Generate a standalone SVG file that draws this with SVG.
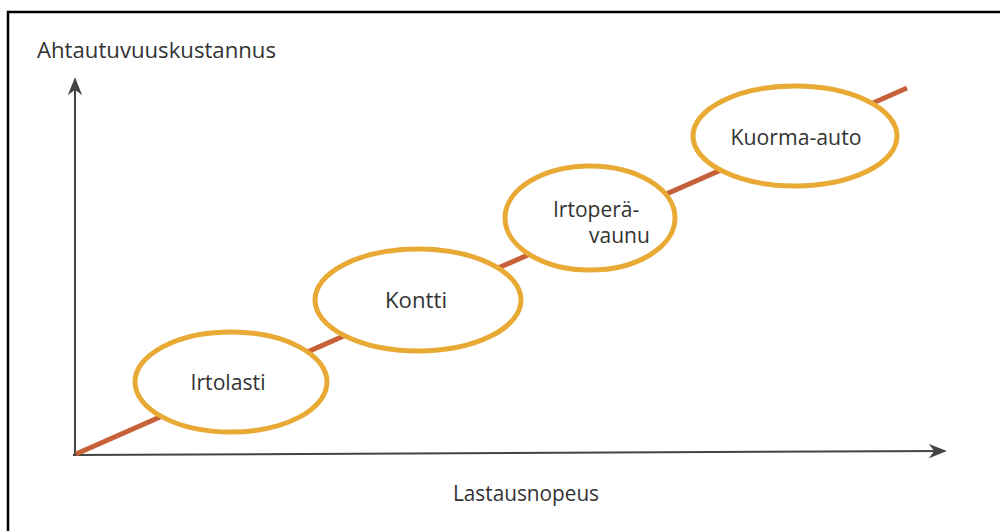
<svg xmlns="http://www.w3.org/2000/svg" width="1000" height="531" viewBox="0 0 1000 531">
<style>
text{font-family:"Open Sans","Noto Sans",sans-serif;font-size:21px;fill:#333;}
.lbl{text-anchor:middle;}
.node ellipse{fill:#fff;stroke:#E8AA35;stroke-width:5;}
.axis{stroke:#444;stroke-width:2;fill:none;}
</style>
<defs>
<marker id="ah2" viewBox="0 0 10 10" refX="9" refY="5" markerWidth="18" markerHeight="18" markerUnits="userSpaceOnUse" orient="auto">
<path d="M0,1 L10,5 L0,9 L3,5 Z" fill="#444"/>
</marker>
</defs>
<rect x="0" y="0" width="1000" height="531" fill="#fff"/>
<rect x="8" y="12" width="1010" height="540" fill="none" stroke="#000" stroke-width="2.5"/>
<g id="connectors">
<line class="axis" x1="75" y1="455" x2="75" y2="79" marker-end="url(#ah2)"/>
<line class="axis" x1="73" y1="455" x2="945" y2="451" marker-end="url(#ah2)"/>
<line x1="76" y1="454" x2="907" y2="88" stroke="#C7613A" stroke-width="5"/>
</g>
<g id="irtolasti" class="node">
<ellipse cx="231" cy="382" rx="96" ry="50"/>
<text class="lbl" x="228" y="390" textLength="75" lengthAdjust="spacingAndGlyphs">Irtolasti</text>
</g>
<g id="kontti" class="node">
<ellipse cx="418" cy="300" rx="103" ry="51"/>
<text class="lbl" x="416" y="308" textLength="62" lengthAdjust="spacingAndGlyphs">Kontti</text>
</g>
<g id="irtoperavaunu" class="node">
<ellipse cx="590" cy="218" rx="85" ry="52"/>
<text x="553" y="217">Irtoperä-</text>
<text x="589" y="243">vaunu</text>
</g>
<g id="kuorma-auto" class="node">
<ellipse cx="795" cy="136" rx="102" ry="50"/>
<text class="lbl" x="796" y="145" textLength="131" lengthAdjust="spacingAndGlyphs">Kuorma-auto</text>
</g>
<text x="37" y="58" textLength="239" lengthAdjust="spacingAndGlyphs">Ahtautuvuuskustannus</text>
<text x="453" y="501" textLength="146" lengthAdjust="spacingAndGlyphs">Lastausnopeus</text>
</svg>
